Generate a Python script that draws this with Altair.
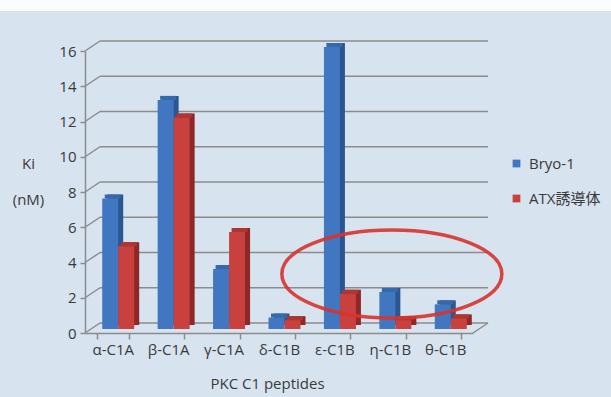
import altair as alt
import pandas as pd

# ---- data ----
categories = ["α-C1A", "β-C1A", "γ-C1A", "δ-C1B", "ε-C1B", "η-C1B", "θ-C1B"]
series = ["Bryo-1", "ATX誘導体"]
bryo_values = [7.4, 13.0, 3.4, 0.65, 16.0, 2.1, 1.4]
atx_values = [4.7, 12.0, 5.5, 0.5, 2.0, 0.5, 0.6]
y_ticks = [0, 2, 4, 6, 8, 10, 12, 14, 16]
ellipse_category = ["η-C1B"]
ellipse_value = [3.35]

rows = []
for c, b, a in zip(categories, bryo_values, atx_values):
    rows.append({"cat": c, "series": series[0], "value": b})
    rows.append({"cat": c, "series": series[1], "value": a})
df = pd.DataFrame(rows)
grid_df = pd.DataFrame({"v": y_ticks})
floor_df = pd.DataFrame({"v": [0]})
ell_df = pd.DataFrame({"cat": ellipse_category, "v": ellipse_value})

# ---- style ----
FONT = "Open Sans, Noto Sans CJK JP, sans-serif"
FS = 15
W, H = 388, 282
DX, DY = 15, -10      # back wall offset
BX, BY = 5.5, -4      # bar placement depth
SX, SY = 5, -4        # bar depth (side)
BW = 16
BLUE, BLUE_D, BLUE_T = "#4177c0", "#2a5792", "#3668ad"
RED, RED_D, RED_T = "#c8413e", "#8e2725", "#ad3532"
GRID = "#8c8c8c"
TXT = "#3a3a3a"
BG = "#d7e3ef"

xscale = alt.Scale(domain=categories, paddingInner=0.423, paddingOuter=0.2115)
yscale = alt.Scale(domain=[0, 16], nice=False, zero=True)

x_axis = alt.Axis(
    orient="bottom", tickBand="extent", domainColor=GRID, domainWidth=1.5,
    tickColor=GRID, tickWidth=1.5, tickSize=6, labelAngle=0,
    labelFont=FONT, labelFontSize=FS, labelColor=TXT, labelPadding=3,
    title="PKC  C1 peptides", titleFont=FONT, titleFontSize=FS,
    titleFontWeight="normal", titleColor=TXT, titleX=182, titleY=50,
    titleAlign="center", titleBaseline="middle",
)
y_axis = alt.Axis(
    values=y_ticks, grid=False, domainColor=GRID, domainWidth=1.5,
    tickColor=GRID, tickWidth=1.5, tickSize=5,
    labelFont=FONT, labelFontSize=FS, labelColor=TXT, labelPadding=4,
    title=["Ki", "(nM)"], titleAngle=0, titleAlign="center",
    titleBaseline="middle", titleX=-57, titleY=112, titleFont=FONT,
    titleFontSize=FS, titleFontWeight="normal", titleColor=TXT,
    titleLineHeight=36,
)

X = alt.X("cat:N", scale=xscale, sort=categories, axis=x_axis)

top_band = alt.Chart(floor_df).mark_rect(color="#fafcfd", clip=False).encode(
    x=alt.value(-85), x2=alt.value(526), y=alt.value(-51), y2=alt.value(-40)
)

grid = alt.Chart(grid_df).mark_rule(color=GRID, strokeWidth=1.5, yOffset=DY).encode(
    x=alt.value(DX), x2=alt.value(W + DX),
    y=alt.Y("v:Q", scale=yscale, axis=y_axis),
)
diag = alt.Chart(grid_df).mark_rule(color=GRID, strokeWidth=1.5, y2Offset=DY).encode(
    x=alt.value(0), x2=alt.value(DX),
    y=alt.Y("v:Q", scale=yscale, axis=y_axis), y2=alt.Y2("v"),
)
floor_diag = alt.Chart(floor_df).mark_rule(color=GRID, strokeWidth=1.5, y2Offset=DY).encode(
    x=alt.value(W), x2=alt.value(W + DX),
    y=alt.Y("v:Q", scale=yscale, axis=y_axis), y2=alt.Y2("v"),
)

color_enc = alt.Color(
    "series:N",
    scale=alt.Scale(domain=series, range=[BLUE, RED]),
    legend=alt.Legend(
        title=None, orient="none", legendX=424, legendY=105,
        symbolType="square", symbolSize=60, symbolStrokeWidth=0,
        labelFont=FONT, labelFontSize=FS, labelColor=TXT,
        labelOffset=5, rowPadding=19,
    ),
)


def bar_layers(s, base_off, c_side, c_top):
    b = alt.Chart(df).transform_filter(alt.datum.series == s)
    Y = alt.Y("value:Q", scale=yscale, axis=y_axis)
    side = b.mark_bar(
        width=BW, color=c_side, xOffset=base_off + SX,
        yOffset=BY + SY, y2Offset=BY + SY,
    ).encode(x=X, y=Y)
    top = b.mark_bar(
        width=BW, color=c_top, xOffset=base_off + SX / 2,
        yOffset=BY + SY, y2Offset=BY,
    ).encode(x=X, y=Y, y2=alt.Y2("value"))
    front = b.mark_bar(
        width=BW, xOffset=base_off, yOffset=BY, y2Offset=BY,
    ).encode(x=X, y=Y, color=color_enc)
    return [side, top, front]


blue_layers = bar_layers(series[0], BX - BW / 2, BLUE_D, BLUE_T)
red_layers = bar_layers(series[1], BX + BW / 2, RED_D, RED_T)

ellipse_path = "M -1 0 A 1 0.4 0 1 0 1 0 A 1 0.4 0 1 0 -1 0 Z"
ellipse = alt.Chart(ell_df).mark_point(
    shape=ellipse_path, size=48400, filled=False, stroke="#d8342e",
    strokeWidth=3.5, opacity=0.9, xOffset=2,
).encode(x=X, y=alt.Y("v:Q", scale=yscale, axis=y_axis))

chart = alt.layer(
    top_band, grid, diag, floor_diag, *blue_layers, *red_layers, ellipse
).properties(
    width=W, height=H,
    autosize=alt.AutoSizeParams(type="none"),
    padding={"left": 85, "top": 51, "right": 611 - 85 - W, "bottom": 397 - 51 - H},
).configure(background=BG).configure_view(stroke=None)

chart.save("out.html", embed_options={"renderer": "svg", "actions": False})
